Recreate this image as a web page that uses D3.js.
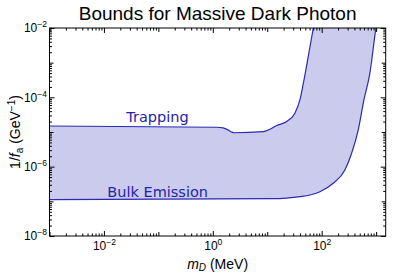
<!DOCTYPE html>
<html>
<head>
<meta charset="utf-8">
<script src="https://cdn.jsdelivr.net/npm/d3@7"></script>
<style>
  body { margin: 0; background: #fff; }
  svg { display: block; background: #fff; }
</style>
</head>
<body>
<svg width="407" height="273"></svg>
<script>
// trapping (upper) bound: m_D in MeV, 1/f_a in GeV^-1
let trapMass = [0.001, 1.17, 1.55, 1.92, 2.22, 2.47, 8.43, 11.2, 14.9, 22.7, 32.2, 39.8, 45.8, 56.6, 70.0, 75.2];
let trapCoupling = [1.49e-5, 1.37e-5, 1.31e-5, 1.14e-5, 1.0e-5, 9.5e-6, 1.02e-5, 1.20e-5, 1.54e-5, 2.01e-5, 3.47e-5, 8.4e-5, 2.43e-4, 1.49e-3, 9.8e-3, 1.82e-2];

// bulk emission (lower) bound
let bulkMass = [0.001, 11.2, 22.7, 39.8, 60.8, 92.9, 163, 267, 355, 469, 597, 769, 991, 1057];
let bulkCoupling = [1.12e-7, 1.19e-7, 1.24e-7, 1.36e-7, 1.52e-7, 1.90e-7, 3.31e-7, 8.0e-7, 2.43e-6, 1.14e-5, 8.4e-5, 5.0e-4, 9.8e-3, 1.82e-2];

// labelled ticks
let xLabelTicks = [1e-2, 1, 1e2];
let yLabelTicks = [1e-8, 1e-6, 1e-4, 1e-2];

let svg = d3.select("svg");
let margin = { top: 28, right: 21.3, bottom: 37, left: 49.5 },
    width = +svg.attr("width") - margin.left - margin.right,
    height = +svg.attr("height") - margin.top - margin.bottom;

let lineColor = "#2a2ab4";
let fillColor = "#cbcbee";
let tickFont = "'Liberation Sans', Arial, sans-serif";

let x = d3.scaleLog().domain([1e-3, 1.5e3]).range([0, width]);
let y = d3.scaleLog().domain([1e-8, 1e-2]).range([height, 0]);

let g = svg.append("g")
    .attr("transform", "translate(" + margin.left + "," + margin.top + ")");

g.append("clipPath")
    .attr("id", "plotClip")
    .append("rect")
    .attr("width", width)
    .attr("height", height);

// the band between the two bounds
let line = d3.line()
    .x(d => x(d[0]))
    .y(d => y(d[1]))
    .curve(d3.curveMonotoneX);

let trap = d3.zip(trapMass, trapCoupling);
let bulk = d3.zip(bulkMass, bulkCoupling);

let plot = g.append("g").attr("clip-path", "url(#plotClip)");

plot.append("path")
    .attr("d", line(trap) + line(bulk.slice().reverse()).replace(/^M/, "L") + "Z")
    .attr("fill", fillColor);

plot.selectAll(".bound")
    .data([trap, bulk])
    .enter()
    .append("path")
    .classed("bound", true)
    .attr("d", line)
    .attr("fill", "none")
    .attr("stroke", lineColor)
    .attr("stroke-width", 1.2);

// log ticks (decades and 2..9 in between)
function logTicks(lo, hi, dom) {
    let t = [];
    for (let n = lo; n <= hi; n++) {
        for (let k = 1; k <= 9; k++) {
            let v = +(k * Math.pow(10, n)).toPrecision(6);
            if (v >= dom[0] * 0.9999 && v <= dom[1] * 1.0001) t.push(v);
        }
    }
    return t;
}
let isDecade = v => Math.abs(Math.log10(v) - Math.round(Math.log10(v))) < 1e-9;

let xAll = logTicks(-3, 3, x.domain());
let yAll = logTicks(-8, -2, y.domain());
let xMinor = xAll.filter(v => !isDecade(v));
let yMinor = yAll.filter(v => !isDecade(v));
let xDec = xAll.filter(v => isDecade(v) && xLabelTicks.indexOf(v) < 0);
let yDec = yAll.filter(v => isDecade(v) && yLabelTicks.indexOf(v) < 0);

function tickAxis(axisFn, scale, values, size, transform) {
    g.append("g")
        .attr("transform", transform)
        .call(axisFn(scale).tickValues(values).tickSize(-size).tickSizeOuter(0).tickFormat(""))
        .call(a => a.select(".domain").remove());
}

[[xMinor, 2.5], [xDec, 4], [xLabelTicks, 5]].forEach(p => {
    tickAxis(d3.axisBottom, x, p[0], p[1], "translate(0," + height + ")");
    tickAxis(d3.axisTop, x, p[0], p[1], "translate(0,0)");
});
[[yMinor, 2.5], [yDec, 4], [yLabelTicks, 5]].forEach(p => {
    tickAxis(d3.axisLeft, y, p[0], p[1], "translate(0,0)");
    tickAxis(d3.axisRight, y, p[0], p[1], "translate(" + width + ",0)");
});

function powerLabels(sel) {
    sel.selectAll(".tick text").each(function (d) {
        let t = d3.select(this).text(null);
        t.append("tspan").text("10");
        t.append("tspan")
            .attr("dy", -5)
            .attr("font-size", 8.5)
            .text(String(Math.round(Math.log10(d))).replace("-", "\u2212"));
    });
}

g.append("g")
    .attr("transform", "translate(0," + height + ")")
    .call(d3.axisBottom(x).tickValues(xLabelTicks).tickSize(0).tickPadding(5.5))
    .attr("font-family", tickFont)
    .attr("font-size", 12)
    .call(a => a.select(".domain").remove())
    .call(a => a.selectAll("line").remove())
    .call(powerLabels);

g.append("g")
    .call(d3.axisLeft(y).tickValues(yLabelTicks).tickSize(0).tickPadding(2.5))
    .attr("font-family", tickFont)
    .attr("font-size", 12)
    .call(a => a.select(".domain").remove())
    .call(a => a.selectAll("line").remove())
    .call(powerLabels);

// frame
g.append("rect")
    .attr("width", width)
    .attr("height", height)
    .attr("fill", "none")
    .attr("stroke", "#000")
    .attr("stroke-width", 1);

// region labels
g.append("text")
    .attr("x", x(0.096))
    .attr("y", y(2.0e-5))
    .attr("text-anchor", "middle")
    .attr("font-family", "'DejaVu Sans', Verdana, sans-serif")
    .attr("font-size", 14.5)
    .attr("fill", "#2323aa")
    .text("Trapping");

g.append("text")
    .attr("x", x(0.097))
    .attr("y", y(1.36e-7))
    .attr("text-anchor", "middle")
    .attr("font-family", "'DejaVu Sans', Verdana, sans-serif")
    .attr("font-size", 14.5)
    .attr("fill", "#2323aa")
    .text("Bulk Emission");

// title
svg.append("text")
    .attr("x", margin.left + width / 2)
    .attr("y", 19.5)
    .attr("text-anchor", "middle")
    .attr("font-family", tickFont)
    .attr("font-size", 19)
    .text("Bounds for Massive Dark Photon");

// x axis title
let xt = svg.append("text")
    .attr("x", margin.left + width / 2)
    .attr("y", 268.5)
    .attr("text-anchor", "middle")
    .attr("font-family", tickFont)
    .attr("font-size", 14);
xt.append("tspan").attr("font-style", "italic").text("m");
xt.append("tspan").attr("font-style", "italic").attr("font-size", 10).attr("dy", 2.5).text("D");
xt.append("tspan").attr("dy", -2.5).text(" (MeV)");

// y axis title
let yt = svg.append("text")
    .attr("transform", "translate(20," + (margin.top + height / 2) + ") rotate(-90)")
    .attr("text-anchor", "middle")
    .attr("font-family", tickFont)
    .attr("font-size", 14);
yt.append("tspan").text("1/");
yt.append("tspan").attr("font-style", "italic").text("f");
yt.append("tspan").attr("font-size", 10).attr("dy", 3).text("a");
yt.append("tspan").attr("dy", -3).text(" (GeV");
yt.append("tspan").attr("font-size", 10).attr("dy", -5).text("\u22121");
yt.append("tspan").attr("dy", 5).text(")");
</script>
</body>
</html>
